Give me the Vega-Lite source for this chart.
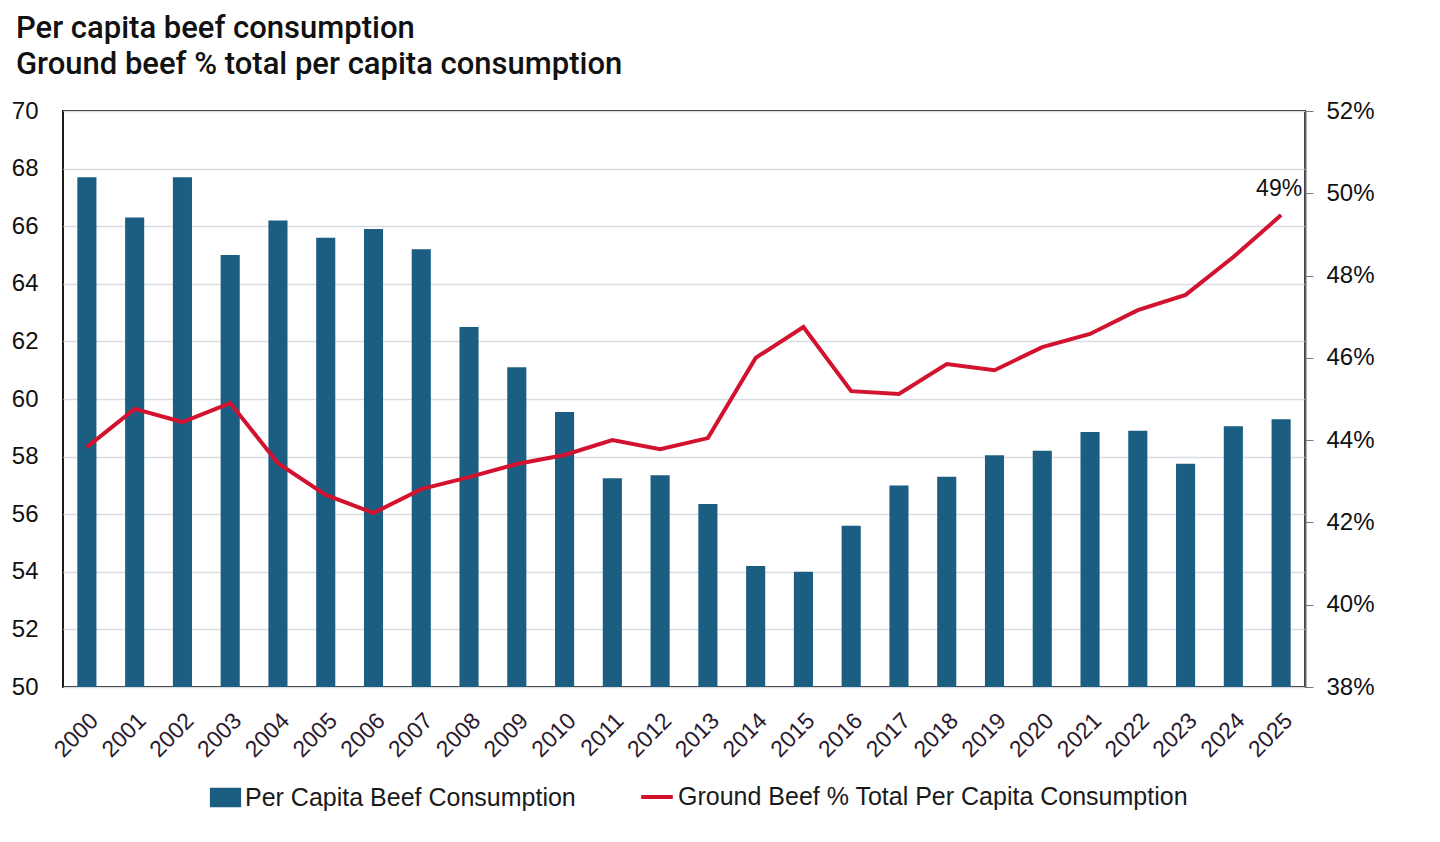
{
  "$schema": "https://vega.github.io/schema/vega-lite/v6.json",
  "width": 1242,
  "height": 576,
  "autosize": {"type": "none"},
  "padding": {"left": 63, "top": 111, "right": 135, "bottom": 155},
  "background": "white",
  "title": {
    "text": ["Per capita beef consumption", "Ground beef % total per capita consumption"],
    "anchor": "start",
    "frame": "group",
    "dx": -47,
    "offset": 18,
    "font": "Roboto",
    "fontSize": 31,
    "fontWeight": 500,
    "lineHeight": 36,
    "color": "#111111"
  },
  "config": {
    "view": {"stroke": "#1a1a1a", "strokeWidth": 2},
    "font": "Liberation Sans"
  },
  "data": {
    "values": [
      {"year": "2000", "beef": 67.7, "pct": 0.4383},
      {"year": "2001", "beef": 66.3, "pct": 0.4476},
      {"year": "2002", "beef": 67.7, "pct": 0.4444},
      {"year": "2003", "beef": 65.0, "pct": 0.4490},
      {"year": "2004", "beef": 66.2, "pct": 0.4344},
      {"year": "2005", "beef": 65.6, "pct": 0.4267},
      {"year": "2006", "beef": 65.9, "pct": 0.4223},
      {"year": "2007", "beef": 65.2, "pct": 0.4281},
      {"year": "2008", "beef": 62.5, "pct": 0.4310},
      {"year": "2009", "beef": 61.1, "pct": 0.4342},
      {"year": "2010", "beef": 59.55, "pct": 0.4364},
      {"year": "2011", "beef": 57.25, "pct": 0.4400},
      {"year": "2012", "beef": 57.35, "pct": 0.4378},
      {"year": "2013", "beef": 56.35, "pct": 0.4405},
      {"year": "2014", "beef": 54.2, "pct": 0.4600},
      {"year": "2015", "beef": 54.0, "pct": 0.4675},
      {"year": "2016", "beef": 55.6, "pct": 0.4519},
      {"year": "2017", "beef": 57.0, "pct": 0.4512},
      {"year": "2018", "beef": 57.3, "pct": 0.4585},
      {"year": "2019", "beef": 58.05, "pct": 0.4570},
      {"year": "2020", "beef": 58.2, "pct": 0.4626},
      {"year": "2021", "beef": 58.85, "pct": 0.4658},
      {"year": "2022", "beef": 58.9, "pct": 0.4716},
      {"year": "2023", "beef": 57.75, "pct": 0.4753},
      {"year": "2024", "beef": 59.05, "pct": 0.4845},
      {"year": "2025", "beef": 59.3, "pct": 0.4947}
    ]
  },
  "encoding": {
    "x": {
      "field": "year",
      "type": "ordinal",
      "scale": {"paddingInner": 0.6, "paddingOuter": 0.3},
      "axis": {
        "title": null,
        "labelAngle": -45,
        "labelFontSize": 23,
        "labelColor": "#2b1a2e",
        "labelFont": "Liberation Sans",
        "ticks": false,
        "domain": false,
        "labelPadding": 22
      }
    }
  },
  "layer": [
    {
      "mark": {"type": "bar", "clip": true},
      "encoding": {
        "y": {
          "field": "beef",
          "type": "quantitative",
          "scale": {"domain": [50, 70], "zero": false, "nice": false},
          "axis": {
            "title": null,
            "orient": "left",
            "values": [50, 52, 54, 56, 58, 60, 62, 64, 66, 68, 70],
            "ticks": false,
            "domain": false,
            "labelPadding": 25,
            "labelFontSize": 24,
            "labelColor": "#111111",
            "gridColor": "#d9dde3",
            "gridWidth": 1.5
          }
        },
        "fill": {
          "datum": "Per Capita Beef Consumption",
          "type": "nominal",
          "scale": {"range": ["#1b5e82"]},
          "legend": {
            "title": null,
            "orient": "none",
            "legendX": 150,
            "legendY": 674,
            "symbolType": "M-1.6,-1L1.6,-1L1.6,1L-1.6,1Z",
            "symbolSize": 380,
            "symbolStrokeWidth": 0,
            "labelFontSize": 25,
            "labelColor": "#1a1a1a",
            "labelOffset": 7,
            "labelLimit": 600
          }
        }
      }
    },
    {
      "mark": {"type": "line", "strokeWidth": 4, "color": "#d2122e"},
      "encoding": {
        "y": {
          "field": "pct",
          "type": "quantitative",
          "scale": {"domain": [0.38, 0.52], "zero": false, "nice": false},
          "axis": {
            "title": null,
            "orient": "right",
            "format": ".0%",
            "values": [0.38, 0.40, 0.42, 0.44, 0.46, 0.48, 0.50, 0.52],
            "grid": false,
            "ticks": true,
            "tickSize": 8,
            "tickColor": "#777777",
            "domainColor": "#666666",
            "domainWidth": 2,
            "labelPadding": 13,
            "labelFontSize": 24,
            "labelColor": "#111111"
          }
        },
        "stroke": {
          "datum": "Ground Beef % Total Per Capita Consumption",
          "type": "nominal",
          "scale": {"range": ["#d2122e"]},
          "legend": {
            "title": null,
            "orient": "none",
            "legendX": 576,
            "legendY": 668,
            "symbolType": "stroke",
            "symbolSize": 1000,
            "symbolStrokeWidth": 4,
            "labelFontSize": 25,
            "labelColor": "#1a1a1a",
            "labelOffset": 3,
            "labelLimit": 700
          }
        }
      }
    },
    {
      "transform": [{"filter": "datum.year == '2025'"}],
      "mark": {"type": "text", "dy": -26, "dx": -2, "fontSize": 23, "color": "#111111"},
      "encoding": {
        "y": {"field": "pct", "type": "quantitative", "scale": {"domain": [0.38, 0.52], "zero": false, "nice": false}, "axis": null},
        "text": {"field": "pct", "type": "quantitative", "format": ".0%"}
      }
    }
  ],
  "resolve": {"scale": {"y": "independent"}}
}
